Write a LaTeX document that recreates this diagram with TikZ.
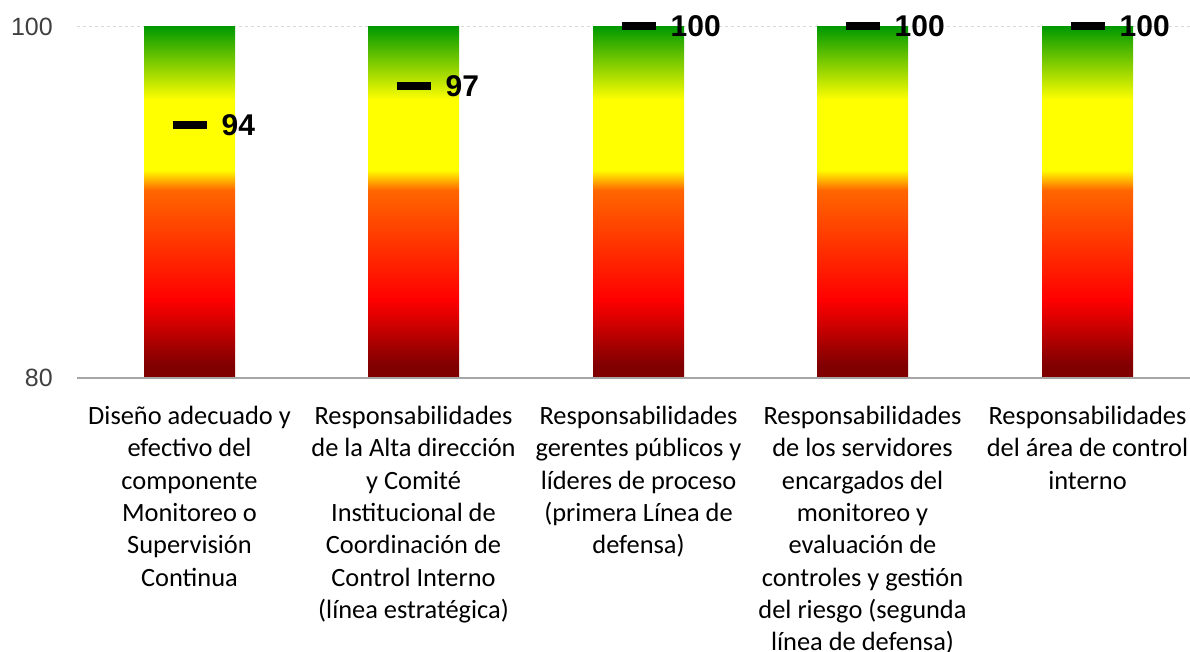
\documentclass[tikz,border=0pt]{standalone}
\usepackage{fontspec}
\setmainfont{Carlito}
\newfontfamily\numfont{Liberation Sans}

\definecolor{deepred}{RGB}{128,0,0}
\definecolor{barorange}{RGB}{255,102,0}
\definecolor{topgreen}{RGB}{0,153,0}
\definecolor{axisgray}{RGB}{166,166,166}
\definecolor{gridgray}{RGB}{217,217,217}
\definecolor{ticktext}{RGB}{64,64,64}

% bar occupies the inner 25bp--75bp of the shading
\pgfdeclareverticalshading{barshade}{100bp}{%
  color(0bp)=(deepred); color(25bp)=(deepred); color(26.85bp)=(deepred);
  color(36.1bp)=(red); color(51.74bp)=(barorange); color(54.59bp)=(yellow);
  color(64.54bp)=(yellow); color(75bp)=(topgreen); color(100bp)=(topgreen)}

\begin{document}
\begin{tikzpicture}
[
  x=1pt, y=1pt,
  bar/.style = {shading=barshade},
  mark line/.style = {line width=8pt, black},
  value/.style = {anchor=west, inner sep=0pt, font=\numfont\bfseries\fontsize{30}{30}\selectfont},
  tick/.style = {anchor=east, inner sep=0pt, text=ticktext, font=\numfont\fontsize{25}{25}\selectfont},
  category/.style = {anchor=north, inner sep=0pt, align=center, font=\fontsize{26.4}{32.3}\selectfont},
]
\useasboundingbox (0,0) rectangle (1190,652);

% axis and grid
\coordinate (A0) at (77,274);
\coordinate (A1) at (1190,274);
\coordinate (G0) at (77,625.5);
\coordinate (G1) at (1190,625.5);
\draw[gridgray, line width=1pt, dashed] (G0) -- (G1);

\node (T100) at (53,625.5) [tick] {100};
\node (T80) at (53,274) [tick] {80};

\foreach \cx/\val/\shown/\txt [count=\i] in {
  189.5/94.4/94/{Diseño adecuado y\\efectivo del\\componente\\Monitoreo o\\Supervisión\\Continua},
  413.5/96.6/97/{Responsabilidades\\de la Alta dirección\\y Comité\\Institucional de\\Coordinación de\\Control Interno\\(línea estratégica)},
  638.5/100/100/{Responsabilidades\\gerentes públicos y\\líderes de proceso\\(primera Línea de\\defensa)},
  862.5/100/100/{Responsabilidades\\de los servidores\\encargados del\\monitoreo y\\evaluación de\\controles y gestión\\del riesgo (segunda\\línea de defensa)},
  1087.5/100/100/{Responsabilidades\\del área de control\\interno}}
{
  \pgfmathsetmacro\vy{274+(\val-80)*17.575}
  \shade[bar] (\cx-45.5,274) rectangle (\cx+45.5,625.5);
  \coordinate (M\i a) at (\cx-17,\vy);
  \coordinate (M\i b) at (\cx+17,\vy);
  \draw[mark line] (M\i a) -- (M\i b);
  \node (V\i) at (\cx+32,\vy) [value] {\shown};
  \node (C\i) at (\cx,246) [category] {\txt};
}

\draw[axisgray, line width=1.5pt] (A0) -- (A1);

\end{tikzpicture}
\end{document}
